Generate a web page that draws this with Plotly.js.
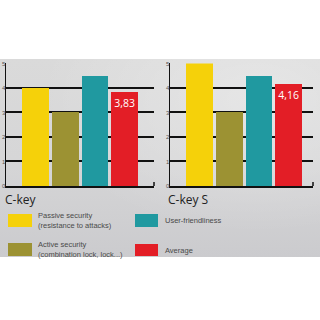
<!DOCTYPE html>
<html>
<head>
<meta charset="utf-8">
<script src="https://cdn.plot.ly/plotly-3.0.1.min.js"></script>
<style>
  html, body { margin: 0; padding: 0; background: #ffffff; }
  #wrap { position: relative; width: 320px; height: 320px; overflow: hidden; }
  #panel {
    position: absolute; left: 0; top: 59px; width: 320px; height: 198px;
    background:
      radial-gradient(ellipse at 80% 20%, rgba(255,255,255,0.35), rgba(255,255,255,0) 60%),
      linear-gradient(to bottom, #dadada 0%, #d6d6d7 50%, #cbcbce 100%);
  }
  #chart { position: absolute; left: 0; top: 0; width: 320px; height: 320px; }
</style>
</head>
<body>
<div id="wrap">
  <div id="panel"></div>
  <div id="chart"></div>
</div>
<script>
// Ratings (0-5) for the two products
const criteria = [
  'Passive security<br>(resistance to attacks)',
  'Active security<br>(combination lock, lock...)',
  'User-friendliness',
  'Average'
];
const colors = ['#f5d10a', '#9c9233', '#2099a0', '#e31e26'];
const products = ['C-key', 'C-key S'];
const ckeyValues = [4, 3, 4.5, 3.83];
const ckeySValues = [5, 3, 4.5, 4.16];
const yTicks = [0, 1, 2, 3, 4, 5];

const positions = criteria.map((c, i) => i);
// only the average bar carries its value
const templates = criteria.map((c, i) => i === criteria.length - 1 ? '%{y:.2f}' : '');

function barTrace(vals, xa, ya) {
  return {
    type: 'bar',
    x: positions,
    y: vals,
    xaxis: xa, yaxis: ya,
    width: 0.9,
    marker: { color: colors, line: { width: 0 } },
    texttemplate: templates,
    textposition: 'inside',
    insidetextanchor: 'end',
    textangle: 0,
    textfont: { color: '#ffffff', size: 11, family: 'Open Sans, sans-serif' },
    showlegend: false,
    hoverinfo: 'skip'
  };
}

const yDomain = [0.41875, 0.8016];
function yAxis() {
  return {
    domain: yDomain,
    range: [0, 5],
    tickvals: yTicks,
    ticktext: yTicks.map(String),
    showgrid: true, gridcolor: '#111111', gridwidth: 2,
    showline: true, linecolor: '#111111', linewidth: 1.5,
    ticks: '', ticklabelstandoff: -2,
    tickfont: { size: 6, color: '#555555', family: 'Liberation Sans, Arial, sans-serif' },
    zeroline: false, fixedrange: true
  };
}
function xAxis(domain, range) {
  return {
    domain: domain, range: range,
    showticklabels: false, ticks: '', showgrid: false, zeroline: false,
    showline: true, linecolor: '#111111', linewidth: 2, fixedrange: true
  };
}

// Legend: swatches and labels, two columns
const legendSpots = [
  { x0: 8, x1: 32, y0: 214, y1: 227, tx: 36 },
  { x0: 8, x1: 32, y0: 243, y1: 256, tx: 36 },
  { x0: 135, x1: 158, y0: 214, y1: 227, tx: 163 },
  { x0: 135, x1: 158, y0: 244, y1: 256, tx: 163 }
];
const px = v => v / 320;
const py = v => 1 - v / 320;

const shapes = [];
const annotations = [];
criteria.forEach((name, i) => {
  const s = legendSpots[i];
  shapes.push({
    type: 'rect', xref: 'paper', yref: 'paper',
    x0: px(s.x0), x1: px(s.x1), y0: py(s.y1), y1: py(s.y0),
    fillcolor: colors[i], line: { width: 0 }
  });
  annotations.push({
    xref: 'paper', yref: 'paper',
    x: px(s.tx), y: py((s.y0 + s.y1) / 2),
    xanchor: 'left', yanchor: 'middle', align: 'left',
    text: name, showarrow: false,
    font: { size: 7.5, color: '#4a4a4a', family: 'Liberation Sans, Arial, sans-serif' }
  });
});

// small upturned ends of the baselines
[[154, 186, 182], [313, 186, 182]].forEach(([x, ya, yb]) => {
  shapes.push({
    type: 'line', xref: 'paper', yref: 'paper',
    x0: px(x), x1: px(x), y0: py(ya), y1: py(yb),
    line: { color: '#111111', width: 1.5 }
  });
});

// Product names under each chart
[[3, products[0]], [166, products[1]]].forEach(([x, t]) => {
  annotations.push({
    xref: 'paper', yref: 'paper', x: px(x), y: py(199),
    xanchor: 'left', yanchor: 'middle', text: t, showarrow: false,
    font: { size: 12, color: '#222222', family: 'Open Sans, sans-serif' }
  });
});

const layout = {
  width: 320, height: 320,
  margin: { l: 0, r: 0, t: 0, b: 0 },
  paper_bgcolor: 'rgba(0,0,0,0)',
  plot_bgcolor: 'rgba(0,0,0,0)',
  separators: ', ',
  bargap: 0,
  xaxis: xAxis([6 / 320, 154 / 320], [-1, 3.99]),
  yaxis: Object.assign(yAxis(), { anchor: 'x' }),
  xaxis2: Object.assign(xAxis([170 / 320, 313 / 320], [-1, 3.82]), { anchor: 'y2' }),
  yaxis2: Object.assign(yAxis(), { anchor: 'x2' }),
  shapes: shapes,
  annotations: annotations,
  showlegend: false
};

Plotly.newPlot('chart', [
  barTrace(ckeyValues, 'x', 'y'),
  barTrace(ckeySValues, 'x2', 'y2')
], layout, { displayModeBar: false, staticPlot: true });
</script>
</body>
</html>
